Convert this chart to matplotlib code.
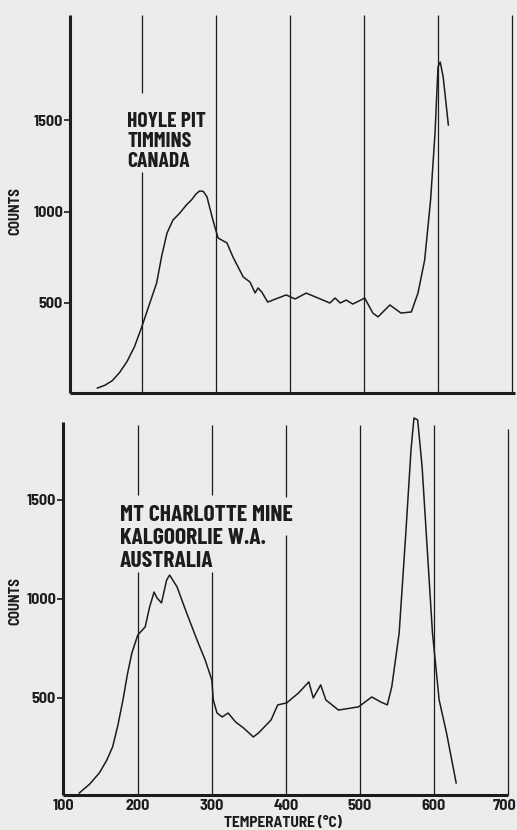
import matplotlib
matplotlib.use("Agg")
import matplotlib.pyplot as plt
from matplotlib.transforms import ScaledTranslation

# ---- data ----
hoyle_temp = [140, 150, 160, 170, 180, 190, 200, 210, 220, 227, 234, 242, 251, 260, 267,
              273, 278, 283, 288, 296, 303, 315, 323, 337, 346, 353, 357, 362, 370, 384,
              395, 407, 422, 438, 454, 461, 468, 476, 485, 501, 512, 519, 535, 550, 564,
              573, 582, 590, 596, 600, 603, 607, 614]
hoyle_counts = [35, 50, 75, 120, 180, 260, 370, 490, 609, 760, 882, 953, 990, 1035, 1063,
                1095, 1112, 1110, 1080, 953, 855, 828, 752, 642, 615, 555, 582, 560, 505, 527,
                544, 522, 554, 527, 500, 527, 500, 516, 494, 527, 445, 424, 489, 445, 451,
                555, 735, 1063, 1429, 1790, 1817, 1735, 1473]

charl_temp = [121, 135, 148, 158, 166, 173, 180, 186, 192, 200, 210, 216, 222, 226, 232,
              239, 243, 253, 266, 280, 291, 300, 302, 307, 314, 322, 332, 343, 356, 363,
              380, 389, 401, 417, 431, 437, 447, 454, 471, 498, 516, 528, 537, 543, 553,
              562, 569, 573, 578, 584, 591, 598, 607, 617, 630]
charl_counts = [20, 65, 121, 185, 253, 360, 490, 620, 727, 818, 859, 960, 1035, 1005, 980,
                1096, 1121, 1061, 929, 793, 692, 591, 490, 424, 404, 424, 379, 348, 303, 323,
                389, 465, 475, 525, 581, 500, 566, 490, 439, 455, 505, 480, 465, 556, 828,
                1333, 1753, 1914, 1904, 1667, 1247, 828, 490, 323, 71]

grid_temps = [200, 300, 400, 500, 600, 700]
x_ticks = [100, 200, 300, 400, 500, 600, 700]
y_ticks = [500, 1000, 1500]
top_label = "HOYLE PIT\nTIMMINS\nCANADA"
bot_label = "MT CHARLOTTE MINE\nKALGOORLIE W.A.\nAUSTRALIA"

FONT = ['Barlow Semi Condensed', 'Barlow Condensed', 'DejaVu Sans']
FONT_C = ['Barlow Condensed', 'DejaVu Sans']
BG = '#ececea'
INK = '#1c1c1c'

W, H = 517, 830
fig = plt.figure(figsize=(W / 100, H / 100), dpi=100, facecolor=BG)


def px_axes(l, t, r, b):
    return fig.add_axes([l / W, 1 - b / H, (r - l) / W, (b - t) / H])


def style(ax):
    ax.set_facecolor(BG)
    for s in ['top', 'right']:
        ax.spines[s].set_visible(False)
    for s in ['left', 'bottom']:
        ax.spines[s].set_linewidth(2.2)
        ax.spines[s].set_color(INK)
        ax.spines[s].set_capstyle('butt')
    ax.set_yticks(y_ticks)
    ax.set_yticklabels([str(v) for v in y_ticks], fontfamily=FONT,
                       fontweight='bold', fontsize=11.5, color=INK)
    ax.tick_params(axis='y', direction='out', length=4, width=1.2, color=INK, pad=1)


# ---- top panel ----
ax1 = px_axes(70, 15, 515, 393)
style(ax1)
ax1.set_xlim(103, 704)
ax1.set_ylim(8, 2074)
ax1.set_xticks([])
gaps1 = {200: (1216, 1647)}
for t in grid_temps:
    if t in gaps1:
        lo, hi = gaps1[t]
        ax1.vlines(t, 8, lo, color=INK, lw=0.9)
        ax1.vlines(t, hi, 2074, color=INK, lw=0.9)
    else:
        ax1.vlines(t, 8, 2074, color=INK, lw=0.9, clip_on=False)
ax1.plot(hoyle_temp, hoyle_counts, color=INK, lw=1.1)
ax1.text(180, 1545, top_label, fontfamily=FONT_C, fontweight='bold', fontsize=15.5,
         color=INK, va='top', ha='left', linespacing=1.08)
ax1.set_ylabel('COUNTS', fontfamily=FONT, fontweight='bold', fontsize=10.5, color=INK)
ax1.yaxis.set_label_coords(-0.108, 0.481)

# ---- bottom panel ----
ax2 = px_axes(63, 415, 508, 795)
style(ax2)
ax2.set_xlim(99, 700)
ax2.set_ylim(10, 1929)
ax2.spines['left'].set_bounds(10, 1894)
ax2.set_xticks(x_ticks)
ax2.set_xticklabels([str(v) for v in x_ticks], fontfamily=FONT, fontweight='bold',
                    fontsize=11.5, color=INK)
ax2.tick_params(axis='x', length=0, pad=3)
last = ax2.get_xticklabels()[-1]
last.set_transform(last.get_transform() + ScaledTranslation(-3 / 100, 0, fig.dpi_scale_trans))
gaps2 = {200: (1136, 1525), 300: (1136, 1525), 400: (1323, 1515)}
for t in grid_temps:
    top = 1860 if t == 700 else 1880
    if t in gaps2:
        lo, hi = gaps2[t]
        ax2.vlines(t, 10, lo, color=INK, lw=0.9)
        ax2.vlines(t, hi, top, color=INK, lw=0.9)
    else:
        ax2.vlines(t, 10, top, color=INK, lw=0.9, clip_on=False)
ax2.plot(charl_temp, charl_counts, color=INK, lw=1.1, clip_on=False)
ax2.text(175.5, 1472, bot_label, fontfamily=FONT_C, fontweight='bold', fontsize=17,
         color=INK, va='top', ha='left', linespacing=1.16)
ax2.set_ylabel('COUNTS', fontfamily=FONT, fontweight='bold', fontsize=10.5, color=INK)
ax2.yaxis.set_label_coords(-0.092, 0.511)
ax2.text(0.494, -0.074, 'TEMPERATURE (°C)', transform=ax2.transAxes, ha='center',
         va='center', fontfamily=FONT, fontweight='bold', fontsize=11, color=INK)

fig.savefig('out.png', dpi=100, facecolor=BG)
